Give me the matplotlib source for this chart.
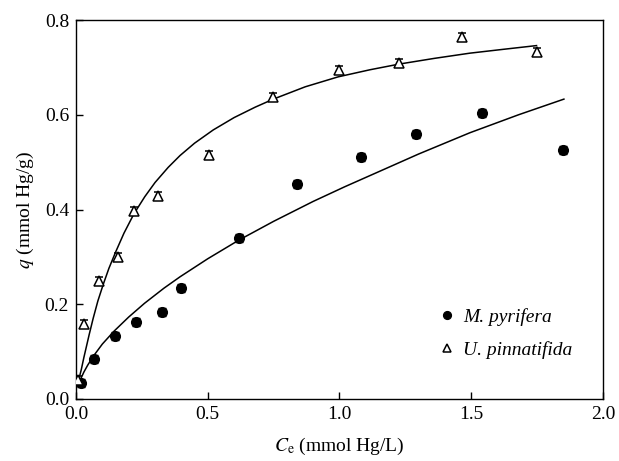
import matplotlib
matplotlib.use("Agg")
import matplotlib.pyplot as plt

plt.rcParams['font.family'] = ['Liberation Serif', 'DejaVu Serif']
plt.rcParams['mathtext.fontset'] = 'stix'

# measured points
mp_x = [0.02, 0.068, 0.148, 0.228, 0.326, 0.40, 0.62, 0.84, 1.08, 1.29, 1.54, 1.85]
mp_q = [0.034, 0.084, 0.133, 0.163, 0.184, 0.234, 0.340, 0.454, 0.511, 0.559, 0.604, 0.526]
up_x = [0.008, 0.03, 0.087, 0.16, 0.22, 0.31, 0.505, 0.748, 0.998, 1.226, 1.465, 1.75]
up_q = [0.040, 0.158, 0.249, 0.300, 0.397, 0.428, 0.515, 0.637, 0.694, 0.709, 0.764, 0.732]
err = 0.008

# fitted curves
mp_fit_x = [0.010, 0.020, 0.030, 0.045, 0.068, 0.10, 0.144, 0.20, 0.26, 0.334, 0.395,
            0.50, 0.617, 0.75, 0.90, 1.02, 1.154, 1.30, 1.495, 1.68, 1.852]
mp_fit_q = [0.030, 0.045, 0.057, 0.072, 0.092, 0.116, 0.143, 0.173, 0.202, 0.234, 0.258,
            0.296, 0.335, 0.375, 0.417, 0.448, 0.481, 0.517, 0.562, 0.600, 0.633]
up_fit_x = [0.010, 0.020, 0.030, 0.040, 0.050, 0.065, 0.083, 0.104, 0.125, 0.151, 0.182,
            0.220, 0.261, 0.30, 0.35, 0.395, 0.45, 0.521, 0.60, 0.68, 0.749, 0.87, 0.995,
            1.116, 1.227, 1.36, 1.495, 1.62, 1.748]
up_fit_q = [0.040, 0.062, 0.088, 0.112, 0.136, 0.170, 0.207, 0.243, 0.276, 0.311, 0.350,
            0.391, 0.427, 0.457, 0.489, 0.514, 0.540, 0.568, 0.594, 0.616, 0.633, 0.659, 0.680,
            0.695, 0.707, 0.719, 0.730, 0.738, 0.746]

fig = plt.figure(figsize=(6.19, 4.61), dpi=100)
ax = fig.add_axes([0.1228, 0.1345, 0.8512, 0.8221])

ax.plot(mp_fit_x, mp_fit_q, color='black', lw=1.1)
ax.plot(up_fit_x, up_fit_q, color='black', lw=1.1)

ax.errorbar(mp_x, mp_q, yerr=err, fmt='o', ms=7, color='black', mfc='black',
            ecolor='black', elinewidth=1, capsize=3, label='M. pyrifera', zorder=3)
ax.errorbar(up_x, up_q, yerr=err, fmt='^', ms=7.5, color='black', mfc='white',
            mew=1.1, ecolor='black', elinewidth=1, capsize=3, label='U. pinnatifida', zorder=3)

ax.set_xlim(0, 2.0)
ax.set_ylim(0, 0.8)
ax.set_xticks([0.0, 0.5, 1.0, 1.5, 2.0])
ax.set_yticks([0.0, 0.2, 0.4, 0.6, 0.8])
ax.tick_params(direction='in', length=5, width=1, labelsize=14, pad=5,
               top=False, right=False)
for s in ax.spines.values():
    s.set_linewidth(1)

ax.set_xlabel(r'$C_\mathrm{e}$ (mmol Hg/L)', fontsize=14, labelpad=9)
ax.set_ylabel(r'$q$ (mmol Hg/g)', fontsize=14, labelpad=6)

h, l = ax.get_legend_handles_labels()
h = [x[0] for x in h]
leg = ax.legend(h, l, loc='lower right', bbox_to_anchor=(0.975, 0.06), frameon=False,
                prop={'style': 'italic', 'size': 14}, handlelength=0.8,
                handletextpad=0.4, markerscale=0.8, labelspacing=0.75)

fig.savefig('out.png', dpi=100)
